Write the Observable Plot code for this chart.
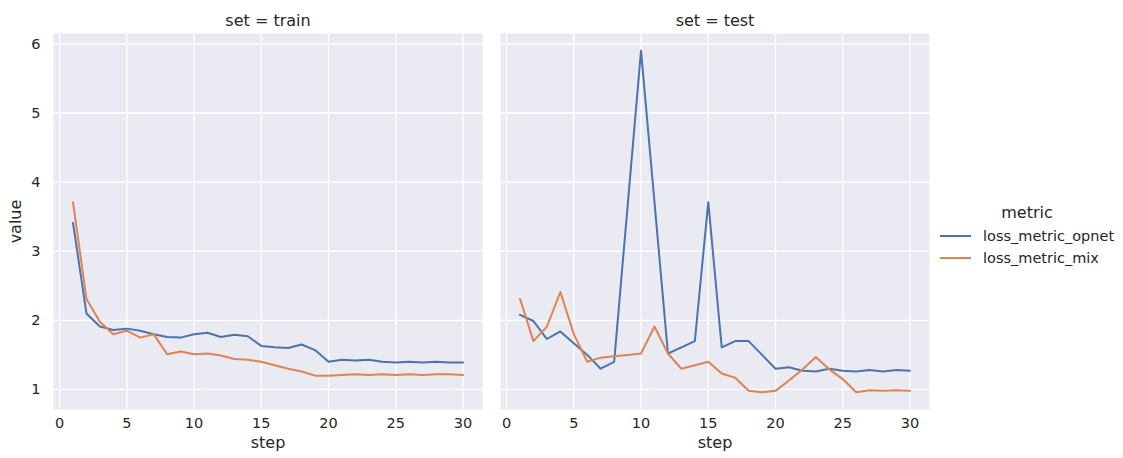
<!DOCTYPE html>
<html>
<head>
<meta charset="utf-8">
<script src="https://cdn.jsdelivr.net/npm/d3@7"></script>
<script src="https://cdn.jsdelivr.net/npm/@observablehq/plot@0.6"></script>
<style>
  html, body { margin: 0; padding: 0; background: #ffffff; }
  #wrap { position: relative; width: 1123px; height: 458px; font-family: "DejaVu Sans", sans-serif; color: #262626; }
  #legend { position: absolute; left: 938px; top: 203px; width: 185px; }
  #legend .title { font-size: 16px; line-height: 19px; height: 19px; text-align: center; width: 178px; margin-bottom: 3px; }
  #legend .row { display: flex; align-items: center; height: 21.7px; font-size: 14.5px; }
  #legend svg { margin-right: 11px; flex: none; }
</style>
</head>
<body>
<div id="wrap"><div id="chart"></div><div id="legend"></div></div>
<script>
const sets = ["train", "test"];
const metrics = ["loss_metric_opnet", "loss_metric_mix"];
const colors = ["#4c72b0", "#dd8452"];
const steps = [1,2,3,4,5,6,7,8,9,10,11,12,13,14,15,16,17,18,19,20,21,22,23,24,25,26,27,28,29,30];
const trainOpnet = [3.41,2.10,1.91,1.86,1.88,1.85,1.80,1.76,1.75,1.80,1.82,1.76,1.79,1.77,1.63,1.61,1.60,1.65,1.57,1.40,1.43,1.42,1.43,1.40,1.39,1.40,1.39,1.40,1.39,1.39];
const trainMix = [3.71,2.31,1.98,1.80,1.85,1.75,1.80,1.51,1.55,1.51,1.52,1.49,1.44,1.43,1.40,1.35,1.30,1.26,1.20,1.20,1.21,1.22,1.21,1.22,1.21,1.22,1.21,1.22,1.22,1.21];
const testOpnet = [2.08,1.99,1.73,1.84,1.67,1.50,1.30,1.40,3.65,5.90,3.71,1.52,1.61,1.70,3.71,1.61,1.70,1.70,1.50,1.30,1.32,1.27,1.26,1.30,1.27,1.26,1.28,1.26,1.28,1.27];
const testMix = [2.31,1.70,1.91,2.41,1.80,1.40,1.46,1.48,1.50,1.52,1.91,1.52,1.30,1.35,1.40,1.23,1.17,0.98,0.96,0.98,1.13,1.29,1.47,1.29,1.15,0.96,0.99,0.98,0.99,0.98];
const xTicks = [0,5,10,15,20,25,30];
const yTicks = [1,2,3,4,5,6];

const series = [
  ["train", metrics[0], trainOpnet],
  ["train", metrics[1], trainMix],
  ["test", metrics[0], testOpnet],
  ["test", metrics[1], testMix]
];
const data = series.flatMap(([set, metric, vals]) =>
  steps.map((s, i) => ({set, metric, step: s, value: vals[i]})));

const chart = Plot.plot({
  width: 930,
  height: 458,
  marginLeft: 53,
  marginRight: 0,
  marginTop: 33,
  marginBottom: 49,
  style: {fontFamily: "DejaVu Sans, sans-serif", fontSize: "14.5px", color: "#262626", background: "transparent"},
  fx: {domain: sets, padding: 0.04, axis: null, label: null},
  x: {domain: [-0.45, 31.45]},
  y: {domain: [0.71, 6.15]},
  color: {domain: metrics, range: colors},
  marks: [
    Plot.frame({fill: "#eaeaf2", stroke: null}),
    Plot.gridX({ticks: xTicks, stroke: "#ffffff", strokeOpacity: 1, strokeWidth: 1.3}),
    Plot.gridY({ticks: yTicks, stroke: "#ffffff", strokeOpacity: 1, strokeWidth: 1.3}),
    Plot.axisX({ticks: xTicks, tickSize: 0, tickPadding: 8, label: null, fontSize: 14.5, tickFormat: d => String(d)}),
    Plot.axisY({ticks: yTicks, tickSize: 0, tickPadding: 13, label: null, fontSize: 14.5, tickFormat: d => String(d)}),
    Plot.line(data, {x: "step", y: "value", fx: "set", stroke: "metric", strokeWidth: 2, z: "metric"}),
    Plot.text(sets, {fx: d => d, text: d => "set = " + d, frameAnchor: "top", dy: -19, fontSize: 16}),
    Plot.text(sets, {fx: d => d, text: () => "step", frameAnchor: "bottom", dy: 38, fontSize: 16}),
    Plot.text(["train"], {fx: d => d, text: () => "value", frameAnchor: "left", textAnchor: "middle", dx: -38, rotate: -90, fontSize: 16})
  ]
});
document.getElementById("chart").appendChild(chart);

const legend = document.getElementById("legend");
const t = document.createElement("div");
t.className = "title";
t.textContent = "metric";
legend.appendChild(t);
metrics.forEach((m, i) => {
  const row = document.createElement("div");
  row.className = "row";
  row.innerHTML = `<svg width="34" height="10"><line x1="2" y1="5" x2="33" y2="5" stroke="${colors[i]}" stroke-width="2"/></svg><span>${m}</span>`;
  legend.appendChild(row);
});
</script>
</body>
</html>
